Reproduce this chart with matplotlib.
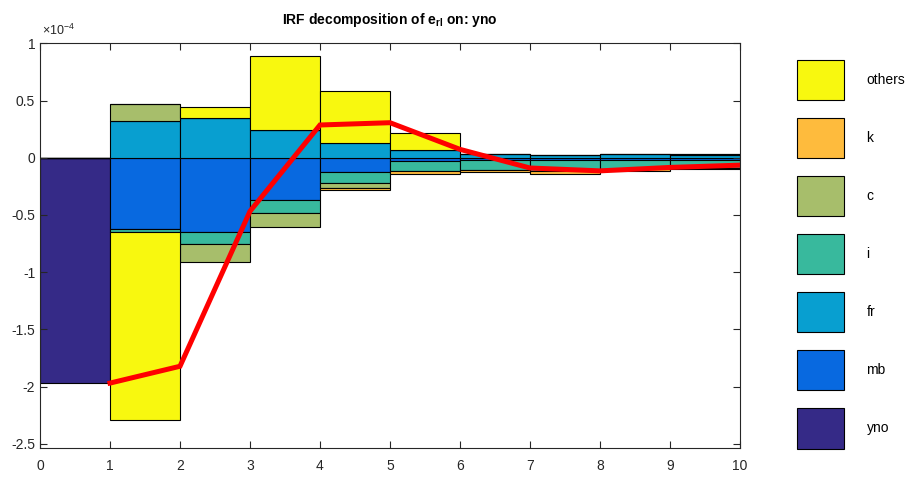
import numpy as np
import matplotlib
matplotlib.use("Agg")
import matplotlib.pyplot as plt
from matplotlib.patches import Patch

plt.rcParams['font.family'] = ['Liberation Sans', 'DejaVu Sans']
plt.rcParams['axes.unicode_minus'] = False
plt.rcParams['mathtext.fontset'] = 'custom'
plt.rcParams['mathtext.rm'] = 'Liberation Sans'
plt.rcParams['mathtext.bf'] = 'Liberation Sans:bold'

# contributions, in units of 1e-4, periods 1..10
periods = np.arange(1, 11)
names = ['yno', 'mb', 'fr', 'i', 'c', 'k', 'others']
yno = [-1.97, 0, 0, 0, 0, 0, 0, 0, 0, 0]
mb = [0, -0.626, -0.652, -0.37, -0.128, -0.025, -0.02, -0.02, -0.02, -0.02]
fr = [0, 0.323, 0.344, 0.239, 0.126, 0.065, 0.035, 0.025, 0.03, 0.02]
i_ = [0, -0.026, -0.105, -0.111, -0.096, -0.09, -0.085, -0.095, -0.075, -0.07]
c = [0, 0.149, -0.157, -0.125, -0.044, 0, 0, 0, 0, 0.015]
k = [0, 0, 0, 0, -0.012, -0.025, -0.02, -0.025, -0.02, -0.01]
others = [0, -1.643, 0.102, 0.653, 0.46, 0.148, 0, 0, 0, 0]
series = [yno, mb, fr, i_, c, k, others]
colors = ['#352a87', '#0869e0', '#089fd0', '#38b99d', '#a7be6b', '#febb3d', '#f8f80f']

fig = plt.figure(figsize=(9.09, 4.78), dpi=100)
ax = fig.add_axes([40/909, 1 - 448.3/478, 700/909, 405/478])

pos_base = np.zeros(10)
neg_base = np.zeros(10)
for vals, col in zip(series, colors):
    v = np.array(vals, dtype=float)
    bottom = np.where(v >= 0, pos_base, neg_base)
    ax.bar(periods - 1, v, width=1, bottom=bottom, align='edge', color=col,
           edgecolor='black', linewidth=0.8)
    pos_base += np.where(v > 0, v, 0)
    neg_base += np.where(v < 0, v, 0)

total = np.sum(np.array(series, dtype=float), axis=0)
ax.plot(periods, total, color='#ff0000', linewidth=3.6, solid_joinstyle='miter')

ax.set_xlim(0, 10)
ax.set_ylim(-2.54, 1)
ax.set_xticks(np.arange(0, 11))
ax.set_yticks(np.arange(-2.5, 1.01, 0.5))
ax.yaxis.set_major_formatter(matplotlib.ticker.FuncFormatter(lambda v, p: '%g' % round(v, 2)))
ax.tick_params(direction='in', top=True, right=True, length=5, width=0.8,
               labelsize=10, color='#262626', labelcolor='#262626')
ax.tick_params(axis='x', pad=8)
for s in ax.spines.values():
    s.set_linewidth(0.8)
    s.set_color('#262626')
ax.text(0.003, 1.012, r'$\times$10$^{-4}$', transform=ax.transAxes, fontsize=9,
        color='#262626', va='bottom', ha='left')
ax.set_title(r'IRF decomposition of $\mathbf{e_{rl}}$ on: yno', fontsize=10,
             fontweight='bold', pad=14)

handles = [Patch(facecolor=col, edgecolor='black', linewidth=0.8, label=n)
           for n, col in zip(names, colors)][::-1]
fig.legend(handles=handles, loc='upper left', bbox_to_anchor=(797/909, 1 - 60/478),
           frameon=False, fontsize=10, handlelength=3.4, handleheight=4.07,
           labelspacing=1.29, handletextpad=1.6, borderpad=0, borderaxespad=0)

fig.savefig('out.png', dpi=100)
